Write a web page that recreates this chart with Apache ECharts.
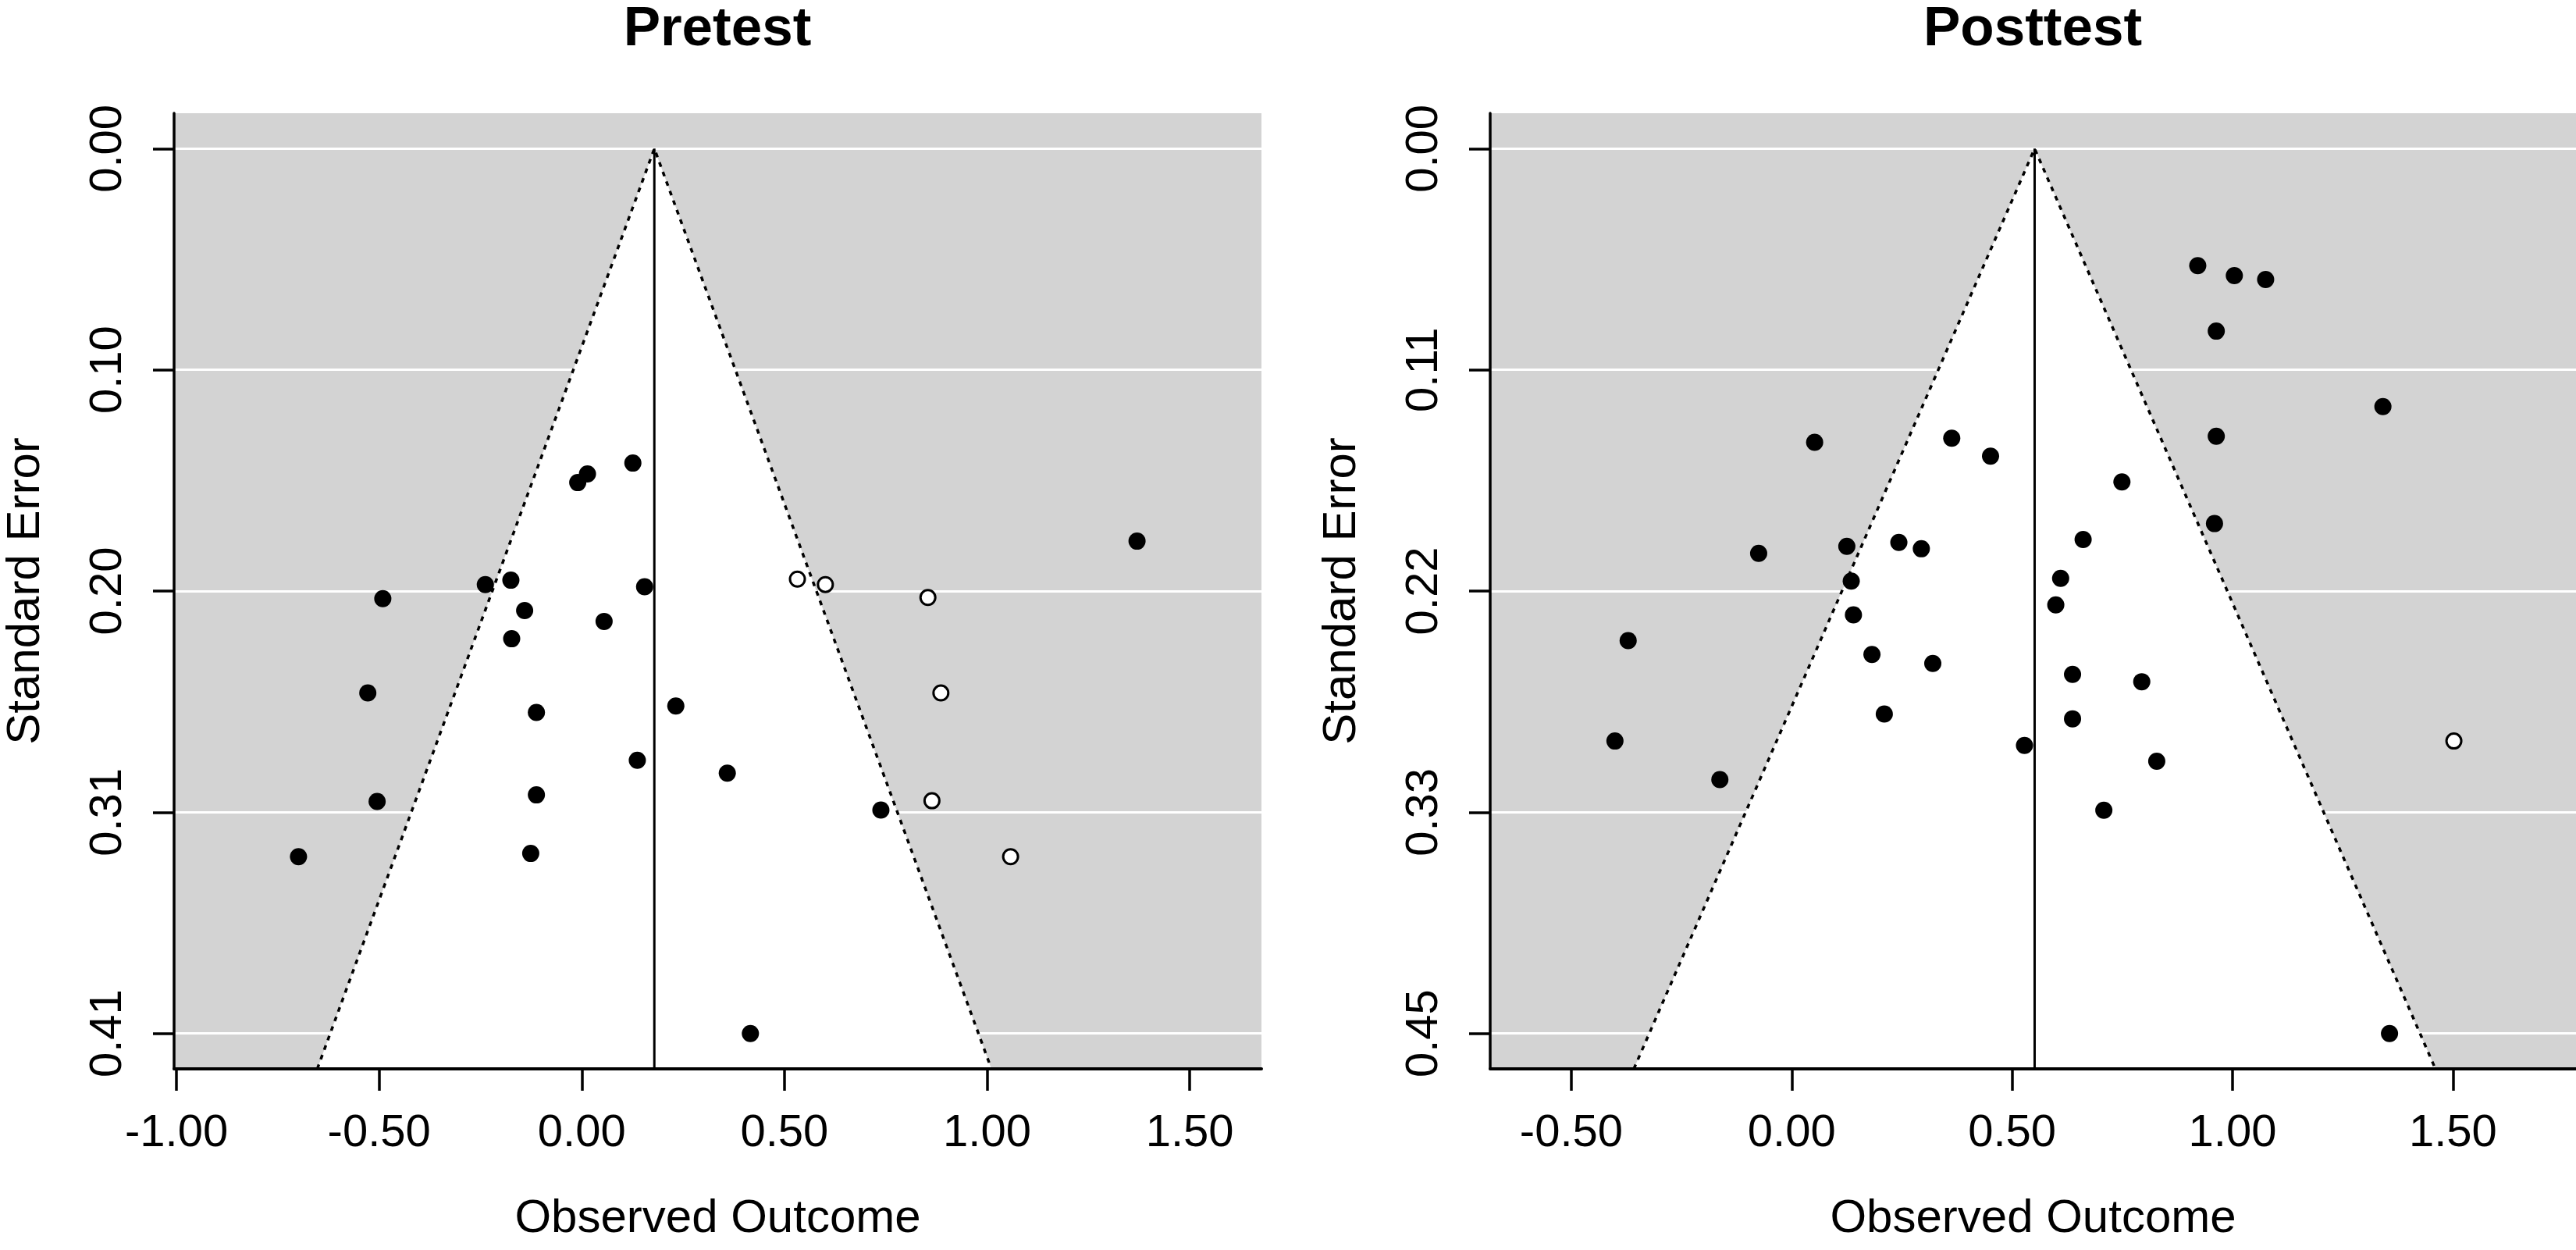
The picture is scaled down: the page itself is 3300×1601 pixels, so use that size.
<!DOCTYPE html>
<html>
<head>
<meta charset="utf-8">
<title>Funnel plots</title>
<script src="https://cdn.jsdelivr.net/npm/echarts@6/dist/echarts.min.js"></script>
<style>
  html, body { margin: 0; padding: 0; background: #fff; }
  #chart { width: 3300px; height: 1601px; }
</style>
</head>
<body>
<div id="chart"></div>
<script>
// pooled (trim-and-fill adjusted) estimates, centre of each funnel
const preEstimate = 0.179;
const postEstimate = 0.551;

// largest standard error, the funnel is drawn down to this
const preMaxSE = 0.408;
const postMaxSE = 0.446;

// observed studies [outcome, standard error]
const preObserved = [
  [0.126, 0.145], [0.014, 0.150], [-0.010, 0.154], [1.370, 0.181],
  [-0.238, 0.201], [-0.175, 0.199], [0.155, 0.202], [-0.491, 0.2075],
  [-0.141, 0.213], [0.055, 0.218], [-0.173, 0.226], [-0.528, 0.251],
  [-0.112, 0.260], [0.232, 0.257], [0.137, 0.282], [0.359, 0.288],
  [-0.112, 0.298], [-0.505, 0.301], [0.738, 0.305], [-0.699, 0.3265],
  [-0.126, 0.325], [0.416, 0.408]
];
// imputed (filled) studies
const preFilled = [
  [0.532, 0.1985], [0.601, 0.201], [0.854, 0.207],
  [0.886, 0.251], [0.864, 0.3007], [1.058, 0.3265]
];

const postObserved = [
  [0.921, 0.059], [1.004, 0.064], [1.075, 0.066], [0.963, 0.092],
  [1.341, 0.130], [0.052, 0.148], [0.363, 0.146], [0.451, 0.155],
  [0.963, 0.145], [0.749, 0.168], [0.959, 0.189], [0.661, 0.197],
  [-0.075, 0.204], [0.125, 0.2005], [0.243, 0.1985], [0.294, 0.2017],
  [0.135, 0.218], [0.610, 0.2166], [0.599, 0.230], [0.140, 0.235],
  [-0.371, 0.248], [0.182, 0.255], [0.320, 0.2595], [0.637, 0.265],
  [0.794, 0.2687], [0.210, 0.285], [0.637, 0.2874], [-0.401, 0.2986],
  [0.528, 0.3008], [0.828, 0.3088], [-0.163, 0.318], [0.708, 0.3335],
  [1.356, 0.446]
];
const postFilled = [
  [1.502, 0.2986]
];

// tick positions and labels
const xTicksPre = [-1, -0.5, 0, 0.5, 1, 1.5];
const xTicksPost = [-0.5, 0, 0.5, 1, 1.5];
const yTicksPre = [0, 0.102, 0.204, 0.306, 0.408];
const yLabelsPre = ['0.00', '0.10', '0.20', '0.31', '0.41'];
const yTicksPost = [0, 0.1115, 0.223, 0.3345, 0.446];
const yLabelsPost = ['0.00', '0.11', '0.22', '0.33', '0.45'];

const xRangePre = [-1.006, 1.677];
const xRangePost = [-0.684, 1.779];

const fontFamily = '"Liberation Sans", Arial, Helvetica, sans-serif';
const z = 1.96;

const chart = echarts.init(document.getElementById('chart'));

function makeXAxis(gridIndex, range, ticks) {
  return {
    gridIndex,
    type: 'value',
    min: range[0],
    max: range[1],
    z: 10,
    axisLine: { onZero: false, lineStyle: { color: '#000', width: 4 } },
    axisTick: { customValues: ticks, length: 28, lineStyle: { color: '#000', width: 3.5 } },
    axisLabel: {
      customValues: ticks,
      formatter: (v) => v.toFixed(2),
      fontSize: 58,
      color: '#000',
      margin: 54,
      fontFamily,
    },
    splitLine: { show: false },
    name: 'Observed Outcome',
    nameLocation: 'middle',
    nameGap: 162,
    nameTextStyle: { fontSize: 60, color: '#000', fontFamily },
  };
}

function makeYAxis(gridIndex, maxSE, ticks, labels) {
  return {
    gridIndex,
    type: 'value',
    inverse: true,
    min: -0.04 * maxSE,
    max: 1.04 * maxSE,
    axisLine: { onZero: false, lineStyle: { color: '#000', width: 3.5 } },
    axisTick: { customValues: ticks, length: 27, lineStyle: { color: '#000', width: 3.5 } },
    axisLabel: {
      customValues: ticks,
      rotate: 90,
      formatter: (v) => {
        const i = ticks.findIndex((t) => Math.abs(t - v) < 1e-6);
        return i >= 0 ? labels[i] : '';
      },
      fontSize: 58,
      color: '#000',
      margin: 55,
      fontFamily,
    },
    splitLine: { show: true, lineStyle: { color: '#fff', width: 3 } },
    name: 'Standard Error',
    nameLocation: 'middle',
    nameRotate: 90,
    nameGap: 160,
    nameTextStyle: { fontSize: 60, color: '#000', fontFamily },
  };
}

// series for one funnel panel
function panelSeries(idx, est, maxSE, observed, filled) {
  const seBottom = 1.04 * maxSE;
  const lo = est - z * seBottom;
  const hi = est + z * seBottom;
  return [
    {
      // white region inside the pseudo-confidence funnel
      type: 'custom',
      xAxisIndex: idx,
      yAxisIndex: idx,
      silent: true,
      z: 1,
      data: [[est, 0]],
      renderItem: (params, api) => ({
        type: 'polygon',
        shape: { points: [api.coord([est, 0]), api.coord([lo, seBottom]), api.coord([hi, seBottom])] },
        style: { fill: '#fff' },
      }),
    },
    {
      type: 'line',
      xAxisIndex: idx,
      yAxisIndex: idx,
      silent: true,
      z: 2,
      symbol: 'none',
      data: [[lo, seBottom], [est, 0], [hi, seBottom]],
      lineStyle: { color: '#000', width: 3.5, type: [6, 7] },
    },
    {
      type: 'line',
      xAxisIndex: idx,
      yAxisIndex: idx,
      silent: true,
      z: 2,
      symbol: 'none',
      data: [[est, 0], [est, seBottom]],
      lineStyle: { color: '#000', width: 3 },
    },
    {
      type: 'scatter',
      xAxisIndex: idx,
      yAxisIndex: idx,
      z: 3,
      symbolSize: 22,
      data: observed,
      itemStyle: { color: '#000', opacity: 1 },
    },
    {
      type: 'scatter',
      xAxisIndex: idx,
      yAxisIndex: idx,
      z: 3,
      symbolSize: 19,
      data: filled,
      itemStyle: { color: '#fff', borderColor: '#000', borderWidth: 3, opacity: 1 },
    },
  ];
}

const gridStyle = { show: true, backgroundColor: '#d3d3d3', borderWidth: 0 };

chart.setOption({
  backgroundColor: '#fff',
  animation: false,
  title: [
    {
      text: 'Pretest', left: 919, top: 3, textAlign: 'center', padding: 0,
      textStyle: { fontSize: 71, fontWeight: 'bold', color: '#000', fontFamily },
    },
    {
      text: 'Posttest', left: 2604, top: 3, textAlign: 'center', padding: 0,
      textStyle: { fontSize: 71, fontWeight: 'bold', color: '#000', fontFamily },
    },
  ],
  grid: [
    { left: 223, top: 145, width: 1393, height: 1224, ...gridStyle },
    { left: 1909, top: 145, width: 1391, height: 1224, ...gridStyle },
  ],
  xAxis: [
    makeXAxis(0, xRangePre, xTicksPre),
    makeXAxis(1, xRangePost, xTicksPost),
  ],
  yAxis: [
    makeYAxis(0, preMaxSE, yTicksPre, yLabelsPre),
    makeYAxis(1, postMaxSE, yTicksPost, yLabelsPost),
  ],
  series: [
    ...panelSeries(0, preEstimate, preMaxSE, preObserved, preFilled),
    ...panelSeries(1, postEstimate, postMaxSE, postObserved, postFilled),
  ],
});
</script>
</body>
</html>
